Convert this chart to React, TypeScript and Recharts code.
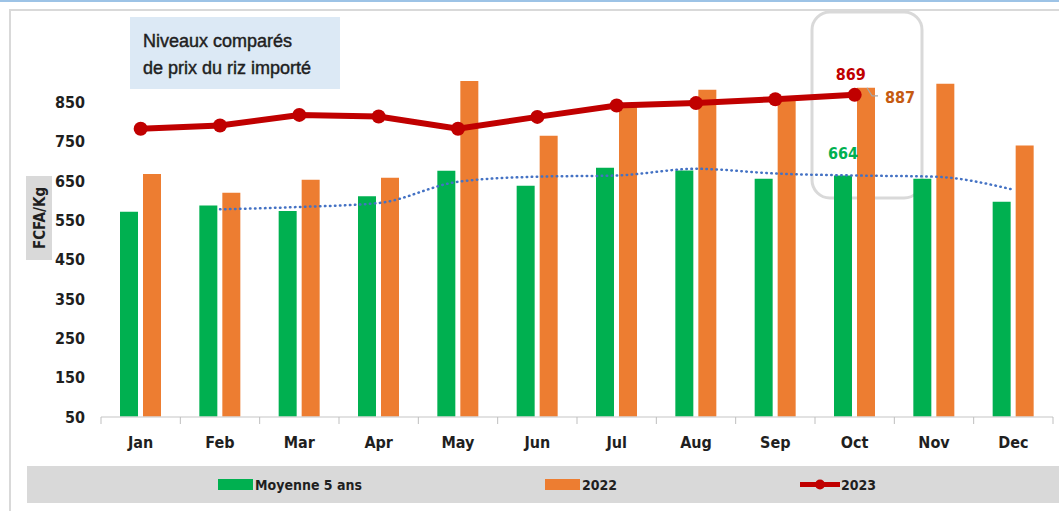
import { ComposedChart, Bar, Line, XAxis, YAxis, LabelList } from "recharts";

const months = ["Jan", "Feb", "Mar", "Apr", "May", "Jun", "Jul", "Aug", "Sep", "Oct", "Nov", "Dec"];
const moyenne5Ans = [572, 588, 574, 611, 676, 638, 684, 677, 656, 664, 656, 597];
const prix2022 = [668, 620, 653, 658, 904, 765, 840, 882, 857, 887, 897, 740];
const prix2023 = [783, 791, 818, 814, 783, 813, 842, 848, 858, 869, null, null];
// trend line (moving average of the 5-year mean)
const tendance = [null, 578, 584, 594, 648, 661, 664, 681, 669, 664, 661, 628];
const yTicks = [50, 150, 250, 350, 450, 550, 650, 750, 850];
const highlightMonth = "Oct";

const GREEN = "#00b050";
const ORANGE = "#ed7d31";
const RED = "#c00000";
const BLUE = "#4472c4";
const TEXT = "#1f1f1f";
const NARROW = "'Liberation Sans Narrow', 'DejaVu Sans Condensed', sans-serif";

const W = 1059;
const H = 511;
const M = { top: 63, right: 6, bottom: 54, left: 41 };
const Y_W = 60;
const X_H = 40;
const band = (W - M.left - Y_W - M.right) / months.length;

const data = months.map((m, i) => ({
  month: m,
  moy: moyenne5Ans[i],
  p22: prix2022[i],
  p23: prix2023[i],
  trend: tendance[i],
}));

const legendItems = [
  { name: "Moyenne 5 ans", color: GREEN, kind: "bar", x: 218 },
  { name: "2022", color: ORANGE, kind: "bar", x: 545 },
  { name: "2023", color: RED, kind: "line", x: 800 },
];

function MonthTick(props: any) {
  const { x, y, payload, index } = props;
  const half = band / 2;
  return (
    <g>
      <line x1={x - half} x2={x - half} y1={y} y2={y + 7} stroke="#bfbfbf" strokeWidth={1} />
      {index === months.length - 1 && (
        <line x1={x + half} x2={x + half} y1={y} y2={y + 7} stroke="#bfbfbf" strokeWidth={1} />
      )}
      <text x={x} y={y + 31} textAnchor="middle" fontFamily={NARROW} fontWeight={700} fontSize={16} fill={TEXT}>
        {payload.value}
      </text>
    </g>
  );
}

const isHighlight = (i: number) => months[i] === highlightMonth;

function Label2023(p: any) {
  if (!isHighlight(p.index)) return null;
  return (
    <text x={p.x - 4} y={p.y - 15} textAnchor="middle" fontFamily={NARROW} fontWeight={700} fontSize={16} fill={RED}>
      {p.value}
    </text>
  );
}

function Label2022(p: any) {
  if (!isHighlight(p.index)) return null;
  const cx = p.x + p.width / 2;
  return (
    <g>
      <path d={`M${cx + 1},${p.y} L${cx + 6},${p.y + 8} L${cx + 12},${p.y + 8}`} stroke="#a6a6a6" strokeWidth={1.2} fill="none" />
      <text x={cx + 19} y={p.y + 15} textAnchor="start" fontFamily={NARROW} fontWeight={700} fontSize={16} fill="#c55a11">
        {p.value}
      </text>
    </g>
  );
}

function LabelMoy(p: any) {
  if (!isHighlight(p.index)) return null;
  return (
    <text x={p.x + p.width / 2} y={p.y - 16} textAnchor="middle" fontFamily={NARROW} fontWeight={700} fontSize={16} fill={GREEN}>
      {p.value}
    </text>
  );
}

export default function App() {
  return (
    <div style={{ position: "absolute", left: 0, top: 0, width: W, height: H, background: "#fff", overflow: "hidden" }}>
      <svg width={W} height={H} style={{ position: "absolute", left: 0, top: 0 }}>
        <rect x={0} y={0} width={W} height={2} fill="#9dc3e6" />
        <rect x={9} y={9} width={W - 9} height={2} fill="#d9d9d9" />
        <rect x={9} y={9} width={2} height={H - 9} fill="#d9d9d9" />

        <rect x={130} y={17} width={210} height={72} fill="#dce9f5" />
        <text x={143} y={47} fontFamily="'Liberation Sans', sans-serif" fontSize={18} fill={TEXT} stroke={TEXT} strokeWidth={0.45}>
          Niveaux comparés
        </text>
        <text x={143} y={74} fontFamily="'Liberation Sans', sans-serif" fontSize={18} fill={TEXT} stroke={TEXT} strokeWidth={0.45}>
          de prix du riz importé
        </text>

        <rect x={26} y={176} width={26} height={84} fill="#d9d9d9" />
        <text
          x={0}
          y={0}
          transform="translate(45 218) rotate(-90)"
          textAnchor="middle"
          fontFamily={NARROW}
          fontWeight={700}
          fontSize={15}
          fill={TEXT}
        >
          FCFA/Kg
        </text>

        <rect x={812} y={12} width={110} height={186} rx={18} ry={18} fill="none" stroke="#d9d9d9" strokeWidth={3} />

        <rect x={27} y={466} width={W - 27} height={37} fill="#d9d9d9" />
        {legendItems.map((it) => (
          <g key={it.name}>
            {it.kind === "bar" ? (
              <rect x={it.x} y={479} width={35} height={11} fill={it.color} />
            ) : (
              <g>
                <line x1={it.x} x2={it.x + 40} y1={484.5} y2={484.5} stroke={it.color} strokeWidth={5} />
                <circle cx={it.x + 20} cy={484.5} r={5} fill={it.color} />
              </g>
            )}
            <text x={it.x + (it.kind === "bar" ? 37 : 41)} y={490} fontFamily={NARROW} fontWeight={700} fontSize={14} fill={TEXT}>
              {it.name}
            </text>
          </g>
        ))}
      </svg>

      <div style={{ position: "absolute", left: 0, top: 0 }}>
        <ComposedChart width={W} height={H} data={data} margin={M} barSize={18} barGap={5}>
          <XAxis
            dataKey="month"
            height={X_H}
            interval={0}
            tickSize={0}
            tickMargin={0}
            tickLine={false}
            axisLine={{ stroke: "#d9d9d9", strokeWidth: 1.5 }}
            tick={<MonthTick />}
          />
          <YAxis
            width={Y_W}
            domain={[50, 950]}
            ticks={yTicks}
            allowDataOverflow
            axisLine={false}
            tickLine={false}
            tickSize={8}
            tickMargin={8}
            tick={{ fontFamily: NARROW, fontWeight: 700, fontSize: 16, fill: TEXT }}
          />
          <Bar dataKey="moy" name="Moyenne 5 ans" fill={GREEN} isAnimationActive={false}>
            <LabelList dataKey="moy" content={<LabelMoy />} />
          </Bar>
          <Bar dataKey="p22" name="2022" fill={ORANGE} isAnimationActive={false}>
            <LabelList dataKey="p22" content={<Label2022 />} />
          </Bar>
          <Line
            dataKey="trend"
            type="monotone"
            stroke={BLUE}
            strokeWidth={2.5}
            strokeDasharray="0.5 4.5"
            strokeLinecap="round"
            dot={false}
            legendType="none"
            isAnimationActive={false}
          />
          <Line
            dataKey="p23"
            name="2023"
            stroke={RED}
            strokeWidth={6}
            dot={{ r: 7, fill: RED, stroke: RED, strokeWidth: 0 }}
            activeDot={false}
            isAnimationActive={false}
          >
            <LabelList dataKey="p23" content={<Label2023 />} />
          </Line>
        </ComposedChart>
      </div>
    </div>
  );
}
